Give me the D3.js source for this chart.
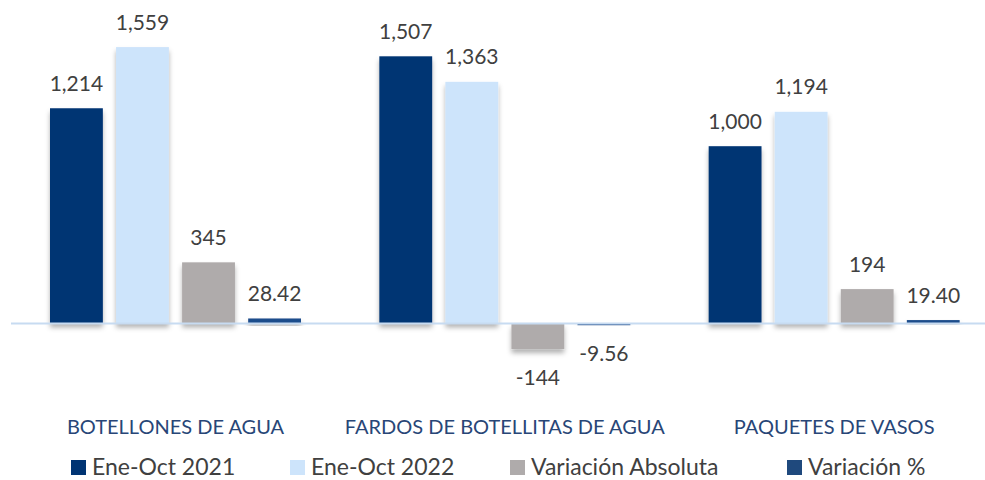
<!DOCTYPE html>
<html>
<head>
  <meta charset="utf-8">
  <title>Ene-Oct 2021 vs 2022</title>
  <script src="https://cdn.jsdelivr.net/npm/d3@7"></script>
  <style>
    body { margin: 0; background: #fff; }
    text { font-family: Lato, "Open Sans", sans-serif; }
  </style>
</head>
<body>
<script>
  // datos
  const categories = ["BOTELLONES DE AGUA", "FARDOS DE BOTELLITAS DE AGUA", "PAQUETES DE VASOS"];
  const seriesNames = ["Ene-Oct 2021", "Ene-Oct 2022", "Variación Absoluta", "Variación %"];
  const ene2021 = [1214, 1507, 1000];
  const ene2022 = [1559, 1363, 1194];
  const varAbs = [345, -144, 194];
  const varPct = [28.42, -9.56, 19.40];
  const colors = ["#003473", "#cde4fb", "#afabab", "#1f4e8c"];
  const legendColors = ["#003473", "#cde4fb", "#afabab", "#1f497d"];

  const w = 985, h = 480;

  const svg = d3.select("body").append("svg")
    .attr("width", w)
    .attr("height", h);

  // sombra de las barras
  const filter = svg.append("defs").append("filter")
    .attr("id", "shadow")
    .attr("x", "-20%").attr("y", "-20%")
    .attr("width", "140%").attr("height", "160%");
  filter.append("feDropShadow")
    .attr("dx", 0).attr("dy", 4)
    .attr("stdDeviation", 2.5)
    .attr("flood-color", "#000")
    .attr("flood-opacity", 0.3);

  const rows = categories.map((c, i) => ({
    cat: c,
    values: [ene2021[i], ene2022[i], varAbs[i], varPct[i]]
  }));

  const x0 = d3.scaleBand().domain(categories).range([11, 999]);
  const x1 = d3.scaleBand().domain(seriesNames).range([39, 290]).paddingInner(0.2);

  // 0 -> 323.5, 1559 -> ~47
  const y = d3.scaleLinear().domain([-500, 1800]).range([412.15, 4.36]);

  // guion normal en vez del signo menos unicode
  const fmt = (v, j) => (j === 3 ? d3.format(".2f")(v) : d3.format(",")(v)).replace("\u2212", "-");

  const groups = svg.selectAll("g.group")
    .data(rows)
    .enter()
    .append("g")
    .attr("class", "group")
    .attr("transform", d => `translate(${x0(d.cat)},0)`);

  groups.selectAll("rect")
    .data(d => d.values.map((v, j) => ({ v, j })))
    .enter()
    .append("rect")
    .attr("x", d => x1(seriesNames[d.j]))
    .attr("width", x1.bandwidth())
    .attr("y", d => y(Math.max(0, d.v)))
    .attr("height", d => Math.abs(y(d.v) - y(0)))
    .attr("fill", d => colors[d.j])
    .attr("filter", "url(#shadow)");

  // eje
  svg.append("line")
    .attr("x1", 11).attr("x2", w)
    .attr("y1", y(0)).attr("y2", y(0))
    .attr("stroke", "#c7dbf1")
    .attr("stroke-width", 2);

  // etiquetas de valores
  groups.selectAll("text.val")
    .data(d => d.values.map((v, j) => ({ v, j })))
    .enter()
    .append("text")
    .attr("class", "val")
    .attr("x", d => x1(seriesNames[d.j]) + x1.bandwidth() / 2)
    .attr("y", d => d.v >= 0 ? y(d.v) - 17.5 : y(Math.min(d.v, 0)) + 36)
    .attr("text-anchor", "middle")
    .attr("font-size", 21)
    .attr("fill", "#404040")
    .text(d => fmt(d.v, d.j));

  // categorías
  svg.selectAll("text.cat")
    .data(categories)
    .enter()
    .append("text")
    .attr("class", "cat")
    .attr("x", d => x0(d) + 39 + 125.5)
    .attr("y", 434)
    .attr("text-anchor", "middle")
    .attr("font-size", 20)
    .attr("fill", "#284677")
    .text(d => d);

  // leyenda
  const legendX = [71, 290, 510, 787];
  const legend = svg.selectAll("g.legend")
    .data(seriesNames)
    .enter()
    .append("g")
    .attr("class", "legend")
    .attr("transform", (d, i) => `translate(${legendX[i]},0)`);

  legend.append("rect")
    .attr("x", 0).attr("y", 460)
    .attr("width", 15).attr("height", 15)
    .attr("fill", (d, i) => legendColors[i]);

  legend.append("text")
    .attr("x", 21)
    .attr("y", 475)
    .attr("font-size", 23)
    .attr("fill", "#404040")
    .text(d => d);
</script>
</body>
</html>
